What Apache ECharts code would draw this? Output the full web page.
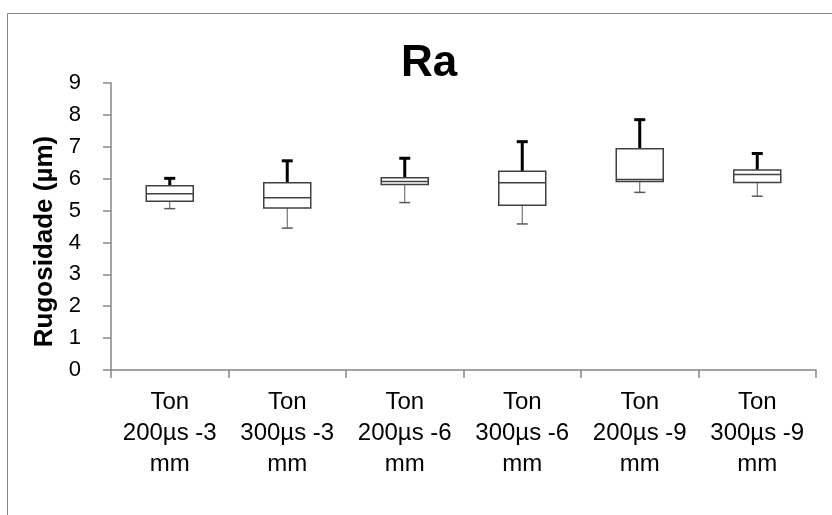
<!DOCTYPE html>
<html>
<head>
<meta charset="utf-8">
<script src="https://cdn.jsdelivr.net/npm/echarts@6/dist/echarts.min.js"></script>
<style>
  html, body { margin: 0; padding: 0; background: #fff; }
  #chart { width: 832px; height: 515px; }
</style>
</head>
<body>
<div id="chart"></div>
<script>
// categories and box values
const categories = [
  'Ton\n200µs -3\nmm', 'Ton\n300µs -3\nmm', 'Ton\n200µs -6\nmm',
  'Ton\n300µs -6\nmm', 'Ton\n200µs -9\nmm', 'Ton\n300µs -9\nmm'
];
const minVals = [5.06, 4.45, 5.25, 4.58, 5.57, 5.45];
const q1Vals = [5.29, 5.08, 5.82, 5.17, 5.91, 5.88];
const medianVals = [5.53, 5.40, 5.91, 5.87, 5.97, 6.13];
const q3Vals = [5.78, 5.87, 6.03, 6.23, 6.94, 6.27];
const maxVals = [6.01, 6.56, 6.64, 7.16, 7.85, 6.79];

const boxData = categories.map((_, i) => [i, minVals[i], q1Vals[i], medianVals[i], q3Vals[i], maxVals[i]]);

const FONT = '"Liberation Sans", Arial, sans-serif';

function renderBox(params, api) {
  const i = api.value(0);
  const pMin = api.coord([i, api.value(1)]);
  const pQ1 = api.coord([i, api.value(2)]);
  const pMed = api.coord([i, api.value(3)]);
  const pQ3 = api.coord([i, api.value(4)]);
  const pMax = api.coord([i, api.value(5)]);
  const bandW = api.size([1, 0])[0];
  const halfBox = bandW * 0.2;
  const halfCap = 5.5;
  const x = pMed[0];
  return {
    type: 'group',
    children: [
      // lower whisker
      { type: 'line', shape: { x1: x, y1: pQ1[1], x2: x, y2: pMin[1] },
        style: { stroke: '#595959', lineWidth: 1 } },
      { type: 'line', shape: { x1: x - halfCap, y1: pMin[1], x2: x + halfCap, y2: pMin[1] },
        style: { stroke: '#595959', lineWidth: 1.5 } },
      // upper whisker (thicker)
      { type: 'line', shape: { x1: x, y1: pQ3[1], x2: x, y2: pMax[1] },
        style: { stroke: '#000', lineWidth: 3 } },
      { type: 'line', shape: { x1: x - halfCap, y1: pMax[1], x2: x + halfCap, y2: pMax[1] },
        style: { stroke: '#000', lineWidth: 3 } },
      // box
      { type: 'rect', shape: { x: x - halfBox, y: pQ3[1], width: halfBox * 2, height: pQ1[1] - pQ3[1] },
        style: { fill: '#fff', stroke: '#404040', lineWidth: 1.5 } },
      // median
      { type: 'line', shape: { x1: x - halfBox, y1: pMed[1], x2: x + halfBox, y2: pMed[1] },
        style: { stroke: '#404040', lineWidth: 1.5 } }
    ]
  };
}

const chart = echarts.init(document.getElementById('chart'));

const option = {
  backgroundColor: '#fff',
  animation: false,
  title: {
    text: 'Ra',
    left: 401,
    top: 42,
    padding: 0,
    textStyle: { fontFamily: FONT, fontSize: 44, fontWeight: 'bold', color: '#000' }
  },
  graphic: [
    {
      type: 'rect',
      shape: { x: 7.5, y: 13.5, width: 900, height: 600 },
      style: { fill: 'none', stroke: '#868686', lineWidth: 1 },
      silent: true
    }
  ],
  grid: { left: 111, right: 16, top: 83, bottom: 145 },
  xAxis: {
    type: 'category',
    data: categories,
    boundaryGap: true,
    axisLine: { lineStyle: { color: '#868686', width: 1.5 } },
    axisTick: { show: true, length: 8, lineStyle: { color: '#868686', width: 1.5 } },
    axisLabel: {
      color: '#000',
      fontFamily: FONT,
      fontSize: 24,
      lineHeight: 31,
      margin: 17,
      interval: 0
    },
    splitLine: { show: false }
  },
  yAxis: {
    type: 'value',
    min: 0,
    max: 9,
    interval: 1,
    name: 'Rugosidade (µm)',
    nameLocation: 'middle',
    nameGap: 53,
    nameTextStyle: {
      fontFamily: FONT, fontSize: 26, fontWeight: 'bold', color: '#000',
      padding: [0, 30, 0, 0]
    },
    axisLine: { show: true, lineStyle: { color: '#868686', width: 1.5 } },
    axisTick: { show: true, length: 8, lineStyle: { color: '#868686', width: 1.5 } },
    axisLabel: { color: '#000', fontFamily: FONT, fontSize: 22, margin: 30 },
    splitLine: { show: false }
  },
  series: [
    {
      type: 'custom',
      renderItem: renderBox,
      encode: { x: 0, y: [1, 2, 3, 4, 5] },
      data: boxData,
      z: 3
    }
  ]
};

chart.setOption(option);
</script>
</body>
</html>
